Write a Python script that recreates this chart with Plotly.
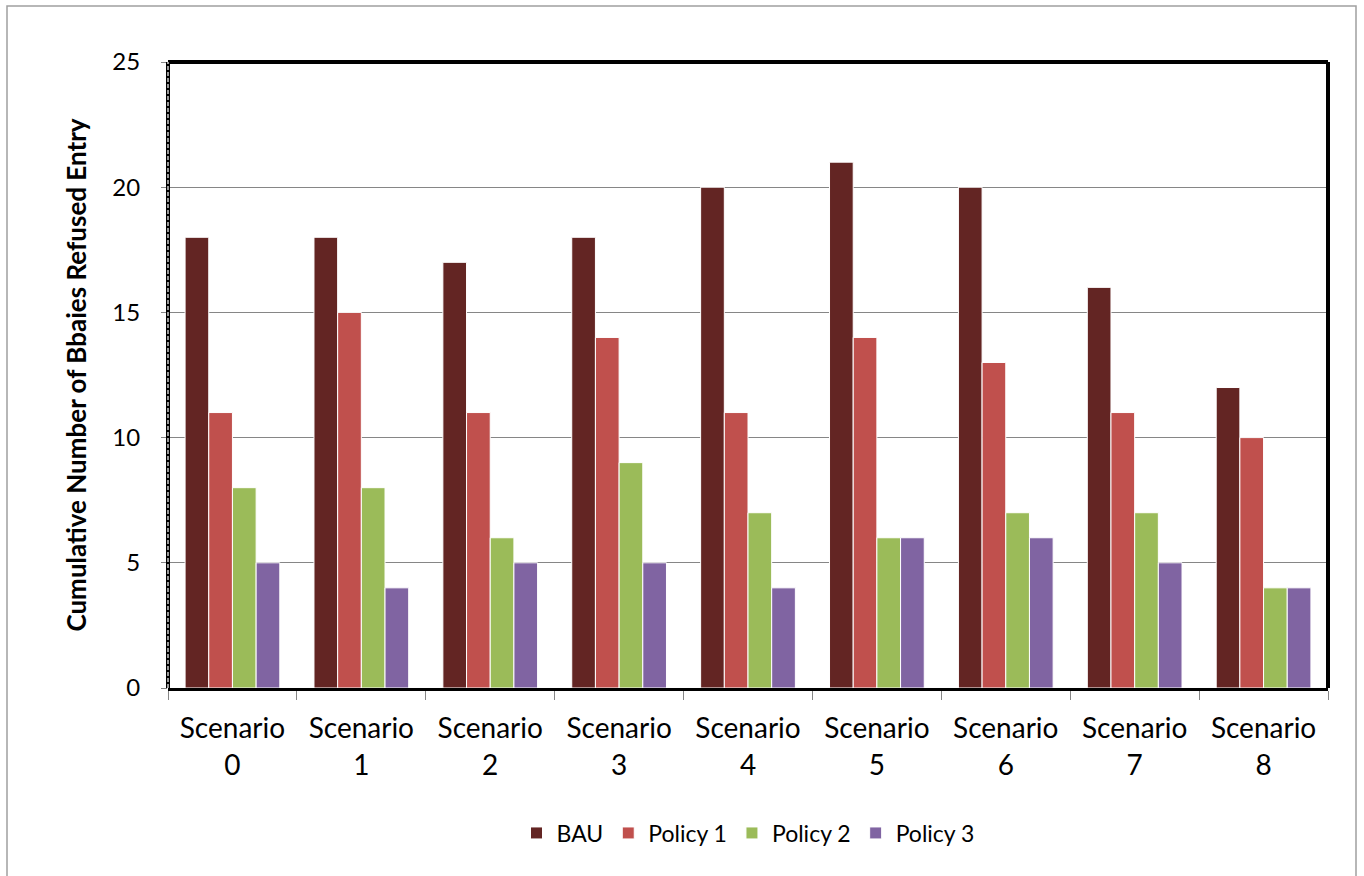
import plotly.graph_objects as go

categories = ["Scenario<br>0", "Scenario<br>1", "Scenario<br>2", "Scenario<br>3", "Scenario<br>4",
              "Scenario<br>5", "Scenario<br>6", "Scenario<br>7", "Scenario<br>8"]
bau = [18, 18, 17, 18, 20, 21, 20, 16, 12]
policy1 = [11, 15, 11, 14, 11, 14, 13, 11, 10]
policy2 = [8, 8, 6, 9, 7, 6, 7, 7, 4]
policy3 = [5, 4, 5, 5, 4, 6, 6, 5, 4]
y_ticks = [0, 5, 10, 15, 20, 25]

series = [("BAU", bau, "#632523"), ("Policy 1", policy1, "#C0504D"),
          ("Policy 2", policy2, "#9BBB59"), ("Policy 3", policy3, "#8064A2")]

FONT = "Lato"
fig = go.Figure()
for name, vals, col in series:
    fig.add_trace(go.Bar(x=categories, y=vals, name=name, marker_color=col,
                         marker_line_color="white", marker_line_width=1))

L, R, T, B = 168, 36, 62, 188
PW, PH = 1364 - L - R, 876 - T - B

def px_x(p):
    return (p - L) / PW

def px_y(p):
    return (876 - B - p) / PH

fig.update_layout(
    width=1364, height=876,
    margin=dict(l=L, r=R, t=T, b=B),
    paper_bgcolor="white", plot_bgcolor="white",
    barmode="group", bargap=0.265, bargroupgap=0,
    font=dict(family=FONT, color="black"),
    legend=dict(orientation="h", x=0.5, xanchor="center", y=px_y(833), yanchor="middle",
                font=dict(size=23, family=FONT), itemwidth=30, traceorder="normal"),
    xaxis=dict(tickson="boundaries", ticks="outside", ticklen=9, tickcolor="#868686",
               tickfont=dict(size=28, family=FONT), showline=True, linecolor="black",
               linewidth=2.5, showgrid=False, ticklabelstandoff=14),
    yaxis=dict(range=[0, 25], tickvals=y_ticks, ticks="outside", ticklen=6, tickcolor="#868686",
               tickfont=dict(size=24, family=FONT), showgrid=True, gridcolor="#868686",
               gridwidth=1, zeroline=False, showline=False, ticklabelstandoff=16,
               title=dict(text="<b>Cumulative Number of Bbaies Refused Entry</b>",
                          font=dict(size=26, family=FONT), standoff=18)),
)

shapes = [
    dict(type="line", xref="paper", yref="paper", x0=0, x1=1, y0=1, y1=1,
         line=dict(color="black", width=4)),
    dict(type="line", xref="paper", yref="paper", x0=1, x1=1, y0=0, y1=1,
         line=dict(color="black", width=4)),
    dict(type="line", xref="paper", yref="paper", x0=0, x1=0, y0=0, y1=1,
         line=dict(color="black", width=4)),
    dict(type="line", xref="paper", yref="paper", x0=0, x1=0, y0=0, y1=1,
         line=dict(color="white", width=1.2, dash="4px,2px")),
    dict(type="rect", xref="paper", yref="paper", x0=px_x(7), x1=px_x(1356),
         y0=px_y(890), y1=px_y(6), line=dict(color="#A0A0A0", width=1.5), layer="below"),
]
fig.update_layout(shapes=shapes)

fig.write_html("out.html")
